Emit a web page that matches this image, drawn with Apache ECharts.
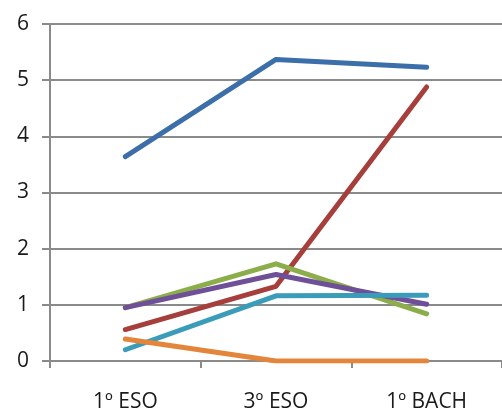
<!DOCTYPE html>
<html><head><meta charset="utf-8">
<script src="https://cdn.jsdelivr.net/npm/echarts@6/dist/echarts.min.js"></script>
<style>html,body{margin:0;padding:0;background:#fff}#c{width:502px;height:415px}</style>
</head><body><div id="c"></div>
<script>
const categories = ['1º ESO', '3º ESO', '1º BACH'];
const yTicks = [0, 1, 2, 3, 4, 5, 6];
const serieBlue = [3.64, 5.37, 5.23];
const serieRed = [0.56, 1.33, 4.88];
const serieGreen = [0.95, 1.73, 0.84];
const seriePurple = [0.95, 1.54, 1.01];
const serieTeal = [0.20, 1.16, 1.17];
const serieOrange = [0.39, 0.0, 0.0];

const seriesData = [
  {data: serieBlue, color: '#3C6EAA'},
  {data: serieRed, color: '#A63E3B'},
  {data: serieGreen, color: '#8BAD4A'},
  {data: seriePurple, color: '#6E4F98'},
  {data: serieTeal, color: '#3A9CB8'},
  {data: serieOrange, color: '#E3853A'}
];

const chart = echarts.init(document.getElementById('c'), null, {renderer: 'canvas'});
chart.setOption({
  animation: false,
  backgroundColor: '#fff',
  grid: {left: 50, top: 24, width: 456, height: 337, containLabel: false},
  xAxis: {
    type: 'category', data: categories, boundaryGap: true,
    axisLine: {lineStyle: {color: '#8a8a8a', width: 2}},
    axisTick: {show: true, length: 7, lineStyle: {color: '#8a8a8a', width: 2}},
    axisLabel: {margin: 31, color: '#1a1a1a', fontSize: 21, fontFamily: 'Open Sans'},
    splitLine: {show: false}
  },
  yAxis: {
    type: 'value', min: yTicks[0], max: yTicks[yTicks.length - 1], interval: 1,
    axisLine: {show: true, lineStyle: {color: '#8a8a8a', width: 2}},
    axisTick: {show: true, length: 8, lineStyle: {color: '#8a8a8a', width: 2}},
    axisLabel: {margin: 21, color: '#1a1a1a', fontSize: 21, fontFamily: 'Open Sans'},
    splitLine: {show: true, lineStyle: {color: '#8a8a8a', width: 2}}
  },
  series: seriesData.map(s => ({
    type: 'line', data: s.data, symbol: 'none',
    lineStyle: {color: s.color, width: 5, cap: 'round', join: 'round'},
    itemStyle: {color: s.color}
  }))
});
</script></body></html>
